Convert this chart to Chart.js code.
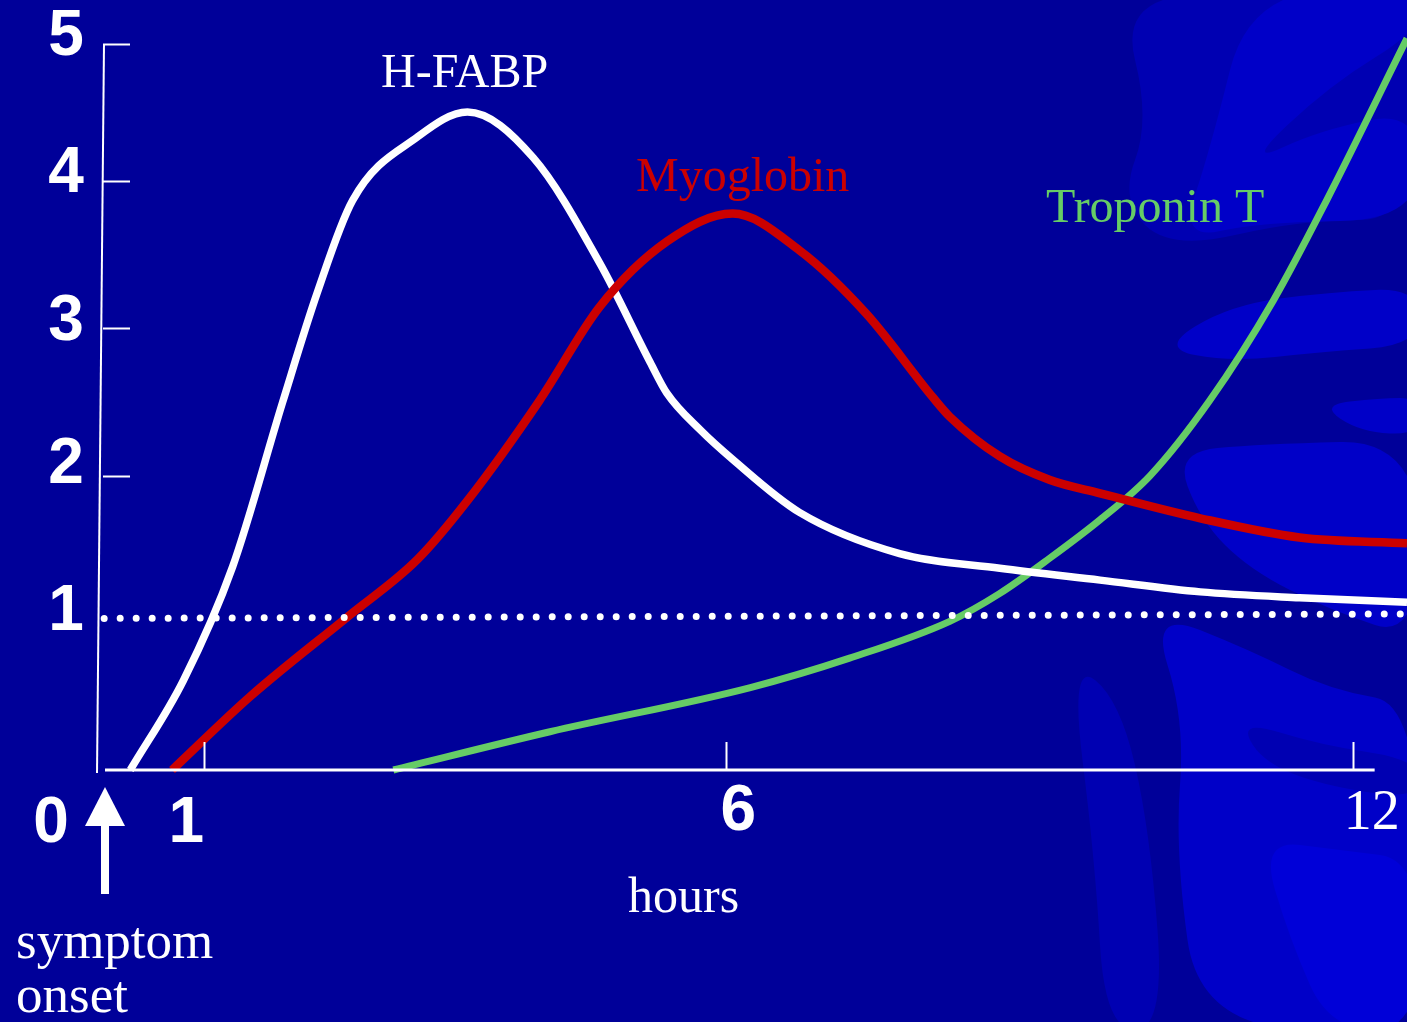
<!DOCTYPE html>
<html>
<head>
<meta charset="utf-8">
<title>Cardiac marker release after symptom onset</title>
<script src="https://cdn.jsdelivr.net/npm/chart.js@4.4.1/dist/chart.umd.min.js"></script>
<style>
  html, body { margin: 0; padding: 0; background: #000099; overflow: hidden; }
  canvas { display: block; }
</style>
</head>
<body>
<canvas id="chart" width="1407" height="1022"></canvas>
<script>
// Hours after symptom onset and relative marker levels
const hfabpHours = [0.29, 0.80, 1.27, 1.75, 2.08, 2.42, 3.04, 3.52, 4.15, 4.79, 5.27, 5.43, 5.75, 6.06, 6.70, 7.66, 8.62, 9.58, 10.54, 11.49, 12.52];
const hfabpLevels = [0, 0.61, 1.38, 2.50, 3.24, 3.87, 4.30, 4.47, 4.16, 3.44, 2.77, 2.56, 2.31, 2.11, 1.75, 1.47, 1.37, 1.29, 1.21, 1.17, 1.14];

const myoglobinHours = [0.69, 1.44, 2.37, 3.04, 3.52, 4.21, 4.79, 5.43, 6.06, 6.70, 7.34, 7.98, 8.14, 8.62, 9.10, 9.58, 10.54, 11.49, 12.52];
const myoglobinLevels = [0, 0.50, 1.04, 1.43, 1.83, 2.51, 3.15, 3.59, 3.78, 3.53, 3.10, 2.53, 2.40, 2.13, 1.97, 1.88, 1.71, 1.58, 1.54];

const troponinHours = [2.81, 4.31, 6.23, 7.18, 8.14, 8.62, 9.10, 9.58, 10.06, 10.63, 11.24, 11.75, 12.52];
const troponinLevels = [0, 0.26, 0.56, 0.76, 1.01, 1.20, 1.44, 1.70, 2.00, 2.51, 3.19, 3.87, 4.97];

// Dotted reference level
const cutoffHours = [0.04, 12.52];
const cutoffLevels = [1.03, 1.06];

// Axis ticks
const xTicks = [0, 1, 6, 12];
const xTickLabels = ['0', '1', '6', '12'];
const yTicks = [1, 2, 3, 4, 5];
const yTickLabels = ['1', '2', '3', '4', '5'];
const yTickMarks = [2, 3, 4, 5];
const xTickMarks = [1, 6, 12];

const toPoints = (xs, ys) => xs.map((x, i) => ({ x, y: ys[i] }));

const BG = '#000099';
const SERIF = '"Liberation Serif", "Times New Roman", serif';
const SANS = '"Liberation Sans", Arial, sans-serif';

// Decorative swirl pattern along the right edge of the slide
function drawBackdrop(ctx) {
  ctx.save();
  ctx.fillStyle = BG;
  ctx.fillRect(0, 0, 1407, 1022);
  const shape = (pts, color) => {
    ctx.beginPath();
    ctx.moveTo((pts[0][0] + pts[1][0]) / 2, (pts[0][1] + pts[1][1]) / 2);
    for (let i = 1; i <= pts.length; i++) {
      const p = pts[i % pts.length];
      const q = pts[(i + 1) % pts.length];
      ctx.quadraticCurveTo(p[0], p[1], (p[0] + q[0]) / 2, (p[1] + q[1]) / 2);
    }
    ctx.closePath();
    ctx.fillStyle = color;
    ctx.fill();
  };
  const mid = '#0000b2';
  const light = '#0000c8';
  const bright = '#0000d8';
  // upper fan
  shape([[1120, 0], [1260, -10], [1420, -10], [1420, 220], [1300, 220], [1170, 250], [1120, 200], [1150, 120]], mid);
  shape([[1250, -10], [1420, -10], [1420, 30], [1330, 85], [1245, 165], [1320, 130], [1420, 110], [1420, 220], [1260, 222], [1180, 240], [1210, 150]], light);
  // tongue near y = 320
  shape([[1160, 348], [1230, 305], [1330, 292], [1420, 288], [1420, 345], [1320, 352], [1230, 362]], light);
  shape([[1320, 405], [1380, 398], [1420, 398], [1420, 435], [1360, 432]], light);
  // middle band
  shape([[1175, 452], [1260, 444], [1420, 440], [1420, 640], [1330, 610], [1250, 570], [1200, 520]], light);
  // lower block
  shape([[1150, 610], [1250, 650], [1330, 690], [1420, 705], [1420, 1030], [1200, 1030], [1175, 850], [1185, 720]], light);
  shape([[1260, 840], [1340, 850], [1420, 860], [1420, 1030], [1330, 1030], [1290, 940]], bright);
  shape([[1240, 720], [1320, 745], [1420, 760], [1420, 800], [1320, 785], [1260, 760]], mid);
  // faint strokes to the left of the lower block
  shape([[1070, 660], [1120, 700], [1150, 830], [1165, 1030], [1105, 1030], [1095, 860]], mid);
  ctx.restore();
}

const decorPlugin = {
  id: 'slideDecor',
  beforeDraw(chart) {
    drawBackdrop(chart.ctx);
  },
  afterDatasetsDraw(chart) {
    const { ctx, scales: { x, y } } = chart;
    ctx.save();
    ctx.strokeStyle = '#ffffff';
    ctx.fillStyle = '#ffffff';

    // axis lines
    const x0 = x.getPixelForValue(0);
    const yBase = y.getPixelForValue(0);
    ctx.lineWidth = 2;
    ctx.beginPath();
    ctx.moveTo(x0 + 4, y.getPixelForValue(5) + 10);
    ctx.lineTo(x0 - 3, yBase + 3);
    ctx.stroke();
    ctx.lineWidth = 3;
    ctx.beginPath();
    ctx.moveTo(x0 + 5, yBase);
    ctx.lineTo(x.getPixelForValue(12.21), yBase);
    ctx.stroke();

    // tick marks pointing into the plot
    ctx.lineWidth = 2;
    yTickMarks.forEach(v => {
      const py = Math.round(y.getPixelForValue(v)) + 0.5 + (v === 5 ? 10 : 0);
      ctx.beginPath();
      ctx.moveTo(x0 + 3, py);
      ctx.lineTo(x0 + 30, py);
      ctx.stroke();
    });
    xTickMarks.forEach(v => {
      const px = Math.round(x.getPixelForValue(v)) + 0.5;
      ctx.beginPath();
      ctx.moveTo(px, yBase);
      ctx.lineTo(px, yBase - 28);
      ctx.stroke();
    });

    // y tick labels
    const yLabelNudge = [7, 7, 12, 11, 21];
    ctx.font = 'bold 64px ' + SANS;
    ctx.textAlign = 'center';
    ctx.textBaseline = 'alphabetic';
    yTicks.forEach((v, i) => {
      ctx.fillText(yTickLabels[i], 66, y.getPixelForValue(v) + yLabelNudge[i]);
    });

    // x tick labels
    const xLabelNudge = [-49, -18, 12, 19];
    xTicks.forEach((v, i) => {
      const px = x.getPixelForValue(v) + xLabelNudge[i];
      if (xTickLabels[i] === '12') {
        ctx.font = '56px ' + SERIF;
        ctx.fillText(xTickLabels[i], px, 829);
      } else {
        ctx.font = 'bold 64px ' + SANS;
        ctx.fillText(xTickLabels[i], px, v === 6 ? 830 : 842);
      }
    });

    // symptom onset arrow
    const ax = x0 + 5;
    ctx.beginPath();
    ctx.moveTo(ax, 787);
    ctx.lineTo(ax + 20, 826);
    ctx.lineTo(ax - 20, 826);
    ctx.closePath();
    ctx.fill();
    ctx.fillRect(ax - 4, 824, 8, 70);

    // text labels
    ctx.textAlign = 'left';
    ctx.fillStyle = '#ffffff';
    ctx.font = '48px ' + SERIF;
    ctx.fillText('H-FABP', 381, 87);
    ctx.font = '50px ' + SERIF;
    ctx.fillText('hours', 628, 912);
    ctx.font = '53px ' + SERIF;
    ctx.fillText('symptom', 16, 958);
    ctx.fillText('onset', 16, 1012);
    ctx.font = '48px ' + SERIF;
    ctx.fillStyle = '#cc0000';
    ctx.fillText('Myoglobin', 636, 191);
    ctx.fillStyle = '#66cc66';
    ctx.fillText('Troponin T', 1046, 222);
    ctx.restore();
  }
};

const curve = { pointRadius: 0, fill: false, clip: 12, cubicInterpolationMode: 'monotone' };

const ctx = document.getElementById('chart').getContext('2d');
new Chart(ctx, {
  type: 'line',
  data: {
    datasets: [
      {
        label: 'cut-off',
        data: toPoints(cutoffHours, cutoffLevels),
        borderColor: '#ffffff',
        borderWidth: 7,
        borderDash: [0.001, 16],
        borderCapStyle: 'round',
        pointRadius: 0,
        tension: 0,
        fill: false,
        clip: 12
      },
      Object.assign({
        label: 'Myoglobin',
        data: toPoints(myoglobinHours, myoglobinLevels),
        borderColor: '#cc0000',
        borderWidth: 8.5
      }, curve),
      Object.assign({
        label: 'H-FABP',
        data: toPoints(hfabpHours, hfabpLevels),
        borderColor: '#ffffff',
        borderWidth: 7.5
      }, curve),
      Object.assign({
        label: 'Troponin T',
        data: toPoints(troponinHours, troponinLevels),
        borderColor: '#66cc66',
        borderWidth: 7
      }, curve)
    ]
  },
  options: {
    responsive: false,
    animation: false,
    devicePixelRatio: 1,
    layout: { padding: { left: 100, right: 0, top: 34, bottom: 252 } },
    plugins: {
      legend: { display: false },
      tooltip: { enabled: false },
      title: { display: false }
    },
    scales: {
      x: { type: 'linear', min: 0, max: 12.52, display: false },
      y: { type: 'linear', min: 0, max: 5, display: false }
    }
  },
  plugins: [decorPlugin]
});
</script>
</body>
</html>
